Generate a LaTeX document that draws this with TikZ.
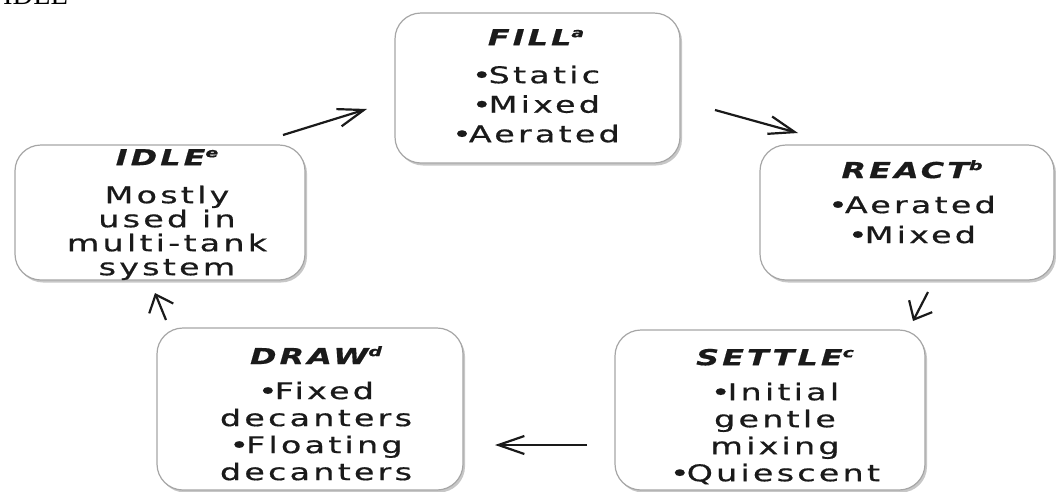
\documentclass[tikz,border=0pt]{standalone}
\usepackage{fontspec}
\usetikzlibrary{arrows.meta,shadows}
\newfontfamily\stagefont[FakeStretch=1.45,LetterSpace=14,FakeBold=0.6]{DejaVu Sans}
\newfontfamily\captionfont{Liberation Serif}
\newcommand{\stagetag}[1]{\raisebox{8pt}{\fontsize{13}{13}\selectfont #1}}
\newcommand{\stagetitle}{\bfseries\itshape\fontsize{22}{22}\selectfont\rule{0pt}{17pt}}
\newcommand{\stagebullet}{\textbullet\kern-3pt}
\definecolor{ink}{HTML}{1A1A1A}
\definecolor{edge}{HTML}{A6A6A6}

\begin{document}
\begin{tikzpicture}[x=1pt, y=-1pt,
    stagebox/.style={draw=edge, line width=1.2pt, fill=white, rounded corners=26pt, inner sep=0pt,
      drop shadow={shadow xshift=2pt, shadow yshift=-2.5pt, fill=black, opacity=0.22}},
    stagetext/.style={font=\stagefont\fontsize{23}{#1}\selectfont, text=ink, align=center,
      inner sep=0pt, anchor=north},
    flow/.style={draw=ink, line width=2.2pt, -{Straight Barb[length=26pt, width=18pt]}},
    flowshort/.style={flow, -{Straight Barb[length=15pt, width=26pt]}}]
      \useasboundingbox (0,0) rectangle (1056,491);
      % cut caption at the top
      \node[font=\captionfont\fontsize{28.5}{30}\selectfont, anchor=base west, inner sep=0pt] (caption) at (3,4) {IDLE};
      % boxes
      \node[stagebox, minimum width=285pt, minimum height=150pt] (fillbox) at (537.5,88) {};
      \node[stagebox, minimum width=294pt, minimum height=135pt] (reactbox) at (907,212.5) {};
      \node[stagebox, minimum width=310pt, minimum height=160pt] (settlebox) at (770,410) {};
      \node[stagebox, minimum width=306pt, minimum height=162pt] (drawbox) at (310,409) {};
      \node[stagebox, minimum width=290pt, minimum height=135pt] (idlebox) at (160,212.5) {};
      % texts
      \node[stagetext=29.5] (filltxt) at (536,28)
        {{\stagetitle FILL\stagetag{a}}\\[8.5pt] \stagebullet Static\\ \stagebullet Mixed\\ \stagebullet Aerated};
      \node[stagetext=30] (reacttxt) at (912,160)
        {{\stagetitle REACT\stagetag{b}}\\[5pt] \stagebullet Aerated\\ \stagebullet Mixed};
      \node[stagetext=27] (settletxt) at (775,348)
        {{\stagetitle SETTLE\stagetag{c}}\\[8pt] \stagebullet Initial\\ gentle\\ mixing\\ \stagebullet Quiescent};
      \node[stagetext=27] (drawtxt) at (316,346)
        {{\stagetitle DRAW\stagetag{d}}\\[8pt] \stagebullet Fixed\\ decanters\\ \stagebullet Floating\\ decanters};
      \node[stagetext=24] (idletxt) at (167,148)
        {{\stagetitle IDLE\stagetag{e}}\\[14pt] Mostly\\ used in\\ multi-tank\\ system};
      % arrow ends
      \coordinate (idleout) at (283,135);
      \coordinate (fillin) at (367,109);
      \coordinate (fillout) at (715,110);
      \coordinate (reactin) at (798,133);
      \coordinate (reactout) at (928,292);
      \coordinate (settlein) at (913,321);
      \coordinate (settleout) at (587,445);
      \coordinate (drawin) at (495,445);
      \coordinate (drawout) at (166,320);
      \coordinate (idlein) at (155,293);
      % cycle
      \draw[flow] (idleout) -- (fillin);
      \draw[flow] (fillout) -- (reactin);
      \draw[flowshort] (reactout) -- (settlein);
      \draw[flow] (settleout) -- (drawin);
      \draw[flowshort] (drawout) -- (idlein);
    \end{tikzpicture}
\end{document}
